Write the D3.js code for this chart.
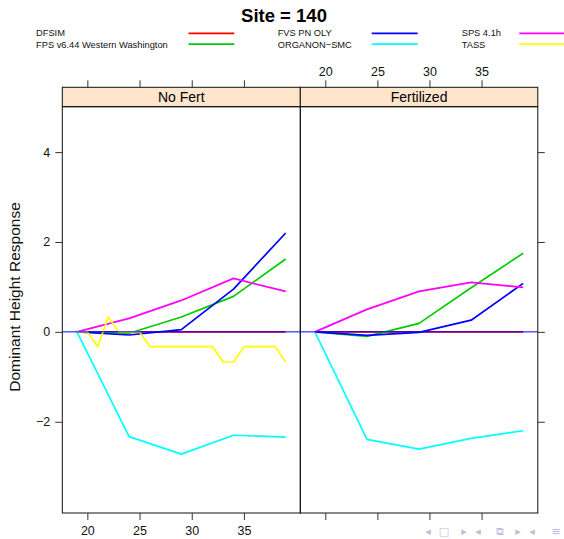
<!DOCTYPE html>
<html>
<head>
<meta charset="utf-8">
<script src="https://cdn.jsdelivr.net/npm/d3@7"></script>
<style>
  html, body { margin: 0; padding: 0; background: #fff; }
  svg { display: block; font-family: "Liberation Sans", Arial, sans-serif; }
</style>
</head>
<body>
<svg id="chart" width="564" height="539"></svg>
<script>
// ---- data ----
const title = "Site = 140";
const panels = ["No Fert", "Fertilized"];
const models = ["DFSIM", "FPS v6.44 Western Washington", "FVS PN OLY", "ORGANON\u2212SMC", "SPS 4.1h", "TASS"];
const modelColors = ["#ff0000", "#00cc00", "#0000ff", "#00ffff", "#ff00ff", "#ffff00"];

const ages = [19, 24, 29, 34, 39];
const tassAges = [19, 20, 21, 22, 23, 24, 25, 26, 27, 28, 29, 30, 31, 32, 33, 34, 35, 36, 37, 38, 39];

// No Fert
const dfsimNoFert    = [0, 0, 0, 0, 0];
const fpsNoFert      = [0, -0.03, 0.33, 0.79, 1.62];
const fvsNoFert      = [0, -0.07, 0.05, 0.95, 2.20];
const organonNoFert  = [0, -2.33, -2.72, -2.30, -2.34];
const spsNoFert      = [0, 0.30, 0.70, 1.19, 0.90];
const tassNoFert     = [0, 0, -0.33, 0.33, 0, 0, 0, -0.33, -0.33, -0.33, -0.33, -0.33, -0.33, -0.33, -0.67, -0.67, -0.33, -0.33, -0.33, -0.33, -0.67];

// Fertilized
const dfsimFert      = [0, 0, 0, 0, 0];
const fpsFert        = [0, -0.10, 0.19, 0.98, 1.75];
const fvsFert        = [0, -0.08, -0.01, 0.26, 1.08];
const organonFert    = [0, -2.39, -2.61, -2.37, -2.20];
const spsFert        = [0, 0.50, 0.90, 1.10, 0.99];

const xTicks = [20, 25, 30, 35];
const yTicks = [-2, 0, 2, 4];
const xDomain = [17.6, 40.4];
const yDomain = [-4.03, 5.01];
const refLine = 0;

// ---- series per panel ----
const panelSeries = [
  [
    { model: 0, x: ages, y: dfsimNoFert },
    { model: 1, x: ages, y: fpsNoFert },
    { model: 2, x: ages, y: fvsNoFert },
    { model: 3, x: ages, y: organonNoFert },
    { model: 4, x: ages, y: spsNoFert },
    { model: 5, x: tassAges, y: tassNoFert }
  ],
  [
    { model: 0, x: ages, y: dfsimFert },
    { model: 1, x: ages, y: fpsFert },
    { model: 2, x: ages, y: fvsFert },
    { model: 3, x: ages, y: organonFert },
    { model: 4, x: ages, y: spsFert }
  ]
];

// ---- layout ----
const svg = d3.select("#chart");
const left = 62.3, mid = 300.3, right = 537.8;
const stripTop = 87.3, stripBottom = 106.7, bottom = 513;
const tickLen = 7;
const axisColor = "#333";

const y = d3.scaleLinear().domain(yDomain).range([bottom, stripBottom]);
const xScales = [
  d3.scaleLinear().domain(xDomain).range([left, mid]),
  d3.scaleLinear().domain(xDomain).range([mid, right])
];

// title
svg.append("text")
  .attr("x", 284).attr("y", 21.8)
  .attr("text-anchor", "middle")
  .attr("font-size", 18.5).attr("font-weight", "bold")
  .text(title);

// legend: three columns, two rows
const legCols = [
  { tx: 36, lx1: 188.5, lx2: 234.3 },
  { tx: 277.7, lx1: 371.7, lx2: 417.7 },
  { tx: 461.7, lx1: 519.3, lx2: 565 }
];
const legRows = [{ ty: 36.4, ly: 33.3 }, { ty: 47.5, ly: 44.2 }];
models.forEach((m, i) => {
  const c = legCols[Math.floor(i / 2)], r = legRows[i % 2];
  svg.append("text")
    .attr("x", c.tx).attr("y", r.ty)
    .attr("font-size", 9.3).attr("fill", "#111")
    .text(m);
  svg.append("line")
    .attr("x1", c.lx1).attr("x2", c.lx2)
    .attr("y1", r.ly).attr("y2", r.ly)
    .attr("stroke", modelColors[i]).attr("stroke-width", 1.8);
});

// panels
const line = (xs) => d3.line().x(d => xs(d[0])).y(d => y(d[1]));

panels.forEach((name, p) => {
  const xs = xScales[p];
  const [x0, x1] = xs.range();
  const g = svg.append("g");

  // strip
  g.append("rect")
    .attr("x", x0).attr("y", stripTop)
    .attr("width", x1 - x0).attr("height", stripBottom - stripTop)
    .attr("fill", "#ffe5cc").attr("stroke", "#111").attr("stroke-width", 1);
  g.append("text")
    .attr("x", (x0 + x1) / 2).attr("y", stripBottom - 4.5)
    .attr("text-anchor", "middle")
    .attr("font-size", 14).attr("fill", "#000")
    .text(name);

  // clip region for the plotted lines
  const clipId = "clip" + p;
  svg.append("clipPath").attr("id", clipId)
    .append("rect").attr("x", x0).attr("y", stripBottom)
    .attr("width", x1 - x0).attr("height", bottom - stripBottom);
  const plot = g.append("g").attr("clip-path", `url(#${clipId})`);

  panelSeries[p].forEach(s => {
    plot.append("path")
      .datum(s.x.map((v, i) => [v, s.y[i]]))
      .attr("d", line(xs))
      .attr("fill", "none")
      .attr("stroke", modelColors[s.model])
      .attr("stroke-width", 1.7)
      .attr("stroke-linejoin", "round");
  });

  // reference line at zero, over the model lines
  plot.append("line")
    .attr("x1", x0).attr("x2", x1)
    .attr("y1", y(refLine)).attr("y2", y(refLine))
    .attr("stroke", "#0000ff").attr("stroke-width", 1);

  // panel border
  g.append("rect")
    .attr("x", x0).attr("y", stripBottom)
    .attr("width", x1 - x0).attr("height", bottom - stripBottom)
    .attr("fill", "none").attr("stroke", "#111").attr("stroke-width", 1);

  // bottom ticks (labels only on first panel)
  const bAxis = d3.axisBottom(xs).tickValues(xTicks).tickSize(tickLen).tickPadding(6)
    .tickFormat(p === 0 ? d3.format("d") : () => "");
  const bg = svg.append("g").attr("transform", `translate(0,${bottom})`).call(bAxis);
  // top ticks (labels only on second panel)
  const tAxis = d3.axisTop(xs).tickValues(xTicks).tickSize(tickLen).tickPadding(4)
    .tickFormat(p === 1 ? d3.format("d") : () => "");
  const tg = svg.append("g").attr("transform", `translate(0,${stripTop})`).call(tAxis);
  [bg, tg].forEach(a => {
    a.select(".domain").remove();
    a.selectAll("line").attr("stroke", axisColor);
    a.selectAll("text").attr("font-size", 12.5).attr("fill", "#111")
      .attr("font-family", "'Liberation Sans', Arial, sans-serif");
  });
});

// left axis (labels) on first panel, right ticks on second
const lAxis = d3.axisLeft(y).tickValues(yTicks).tickSize(tickLen).tickPadding(5)
  .tickFormat(d => d < 0 ? "\u2212" + Math.abs(d) : d);
const lg = svg.append("g").attr("transform", `translate(${left},0)`).call(lAxis);
const rAxis = d3.axisRight(y).tickValues(yTicks).tickSize(tickLen).tickFormat(() => "");
const rg = svg.append("g").attr("transform", `translate(${right},0)`).call(rAxis);
[lg, rg].forEach(a => {
  a.select(".domain").remove();
  a.selectAll("line").attr("stroke", axisColor);
  a.selectAll("text").attr("font-size", 12.5).attr("fill", "#111")
    .attr("font-family", "'Liberation Sans', Arial, sans-serif");
});

// y-axis title
svg.append("text")
  .attr("transform", `translate(19.5,297) rotate(-90)`)
  .attr("text-anchor", "middle")
  .attr("font-size", 15.5).attr("fill", "#111")
  .text("Dominant Height Response");

// slide navigation glyphs in the lower right corner
const navGlyphs = [
  { x: 428, t: "\u25C2" }, { x: 444, t: "\u25A1" }, { x: 464, t: "\u25B8" },
  { x: 478, t: "\u25C2" }, { x: 500, t: "\u29C9" }, { x: 518, t: "\u25B8" },
  { x: 532, t: "\u25C2" }, { x: 556, t: "\u2261" }
];
svg.append("g").selectAll("text").data(navGlyphs).join("text")
  .attr("x", d => d.x).attr("y", 535)
  .attr("text-anchor", "middle")
  .attr("font-size", 11).attr("fill", "#b8c0dc")
  .attr("font-family", "'DejaVu Sans', sans-serif")
  .text(d => d.t);
</script>
</body>
</html>
